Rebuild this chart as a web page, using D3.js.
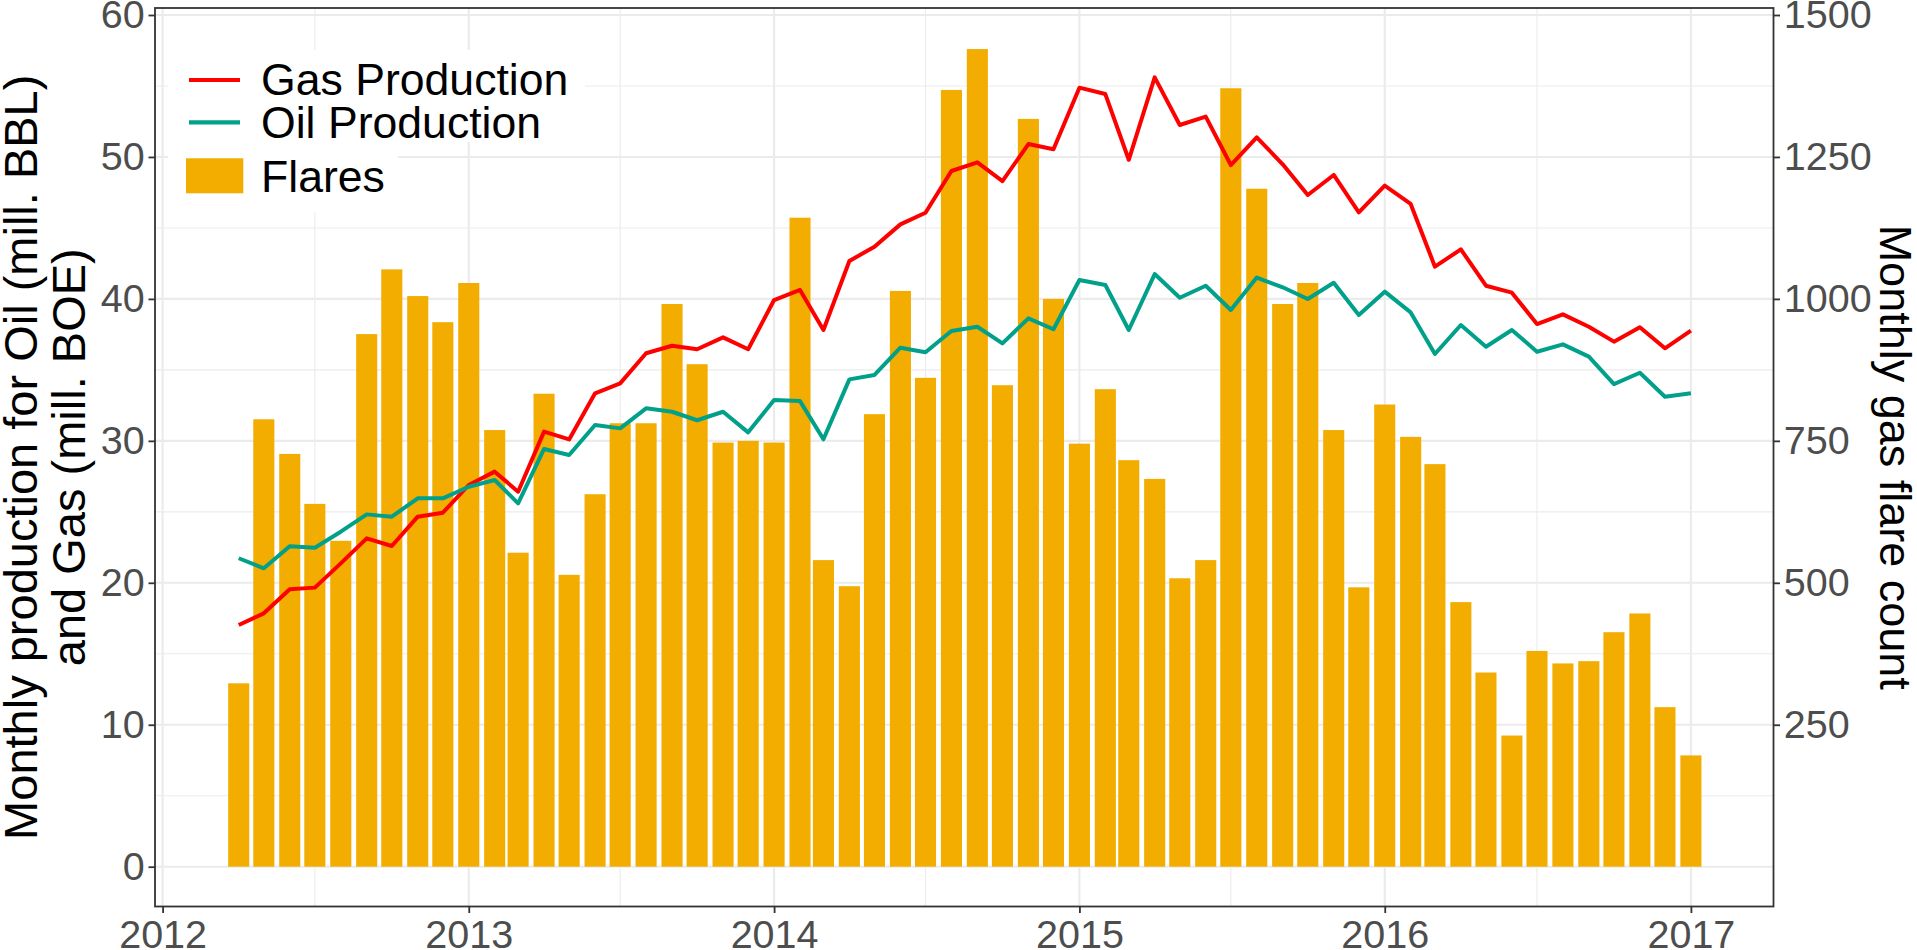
<!DOCTYPE html>
<html>
<head>
<meta charset="utf-8">
<script src="https://cdn.jsdelivr.net/npm/d3@7"></script>
<style>
  html, body { margin: 0; padding: 0; background: #ffffff; }
  svg { display: block; }
  text { font-family: "Liberation Sans", Arial, Helvetica, sans-serif; }
</style>
</head>
<body>
<svg id="chart" width="1917" height="950"></svg>
<script>
// ---------------- DATA ----------------
const months = [
  "2012-04","2012-05","2012-06","2012-07","2012-08","2012-09","2012-10","2012-11","2012-12",
  "2013-01","2013-02","2013-03","2013-04","2013-05","2013-06","2013-07","2013-08","2013-09","2013-10","2013-11","2013-12",
  "2014-01","2014-02","2014-03","2014-04","2014-05","2014-06","2014-07","2014-08","2014-09","2014-10","2014-11","2014-12",
  "2015-01","2015-02","2015-03","2015-04","2015-05","2015-06","2015-07","2015-08","2015-09","2015-10","2015-11","2015-12",
  "2016-01","2016-02","2016-03","2016-04","2016-05","2016-06","2016-07","2016-08","2016-09","2016-10","2016-11","2016-12",
  "2017-01"
];
// Monthly gas flare count (right axis)
const flares = [
  323, 788, 727, 639, 574, 938, 1052, 1005, 959,
  1028, 769, 553, 833, 514, 656, 781, 781, 991, 885, 747, 750,
  747, 1143, 540, 494, 797, 1014, 861, 1368, 1440, 848, 1317, 1000,
  745, 841, 716, 683, 508, 540, 1371, 1194, 991, 1028, 769, 492,
  814, 757, 709, 466, 342, 231, 380, 358, 362, 413, 446, 281,
  196
];
// Gas production (mill. BOE, left axis)
const gas = [
  17.03, 17.85, 19.54, 19.66, 21.37, 23.13, 22.59, 24.66, 24.94,
  26.89, 27.83, 26.42, 30.65, 30.10, 33.35, 34.05, 36.17, 36.70, 36.45, 37.29, 36.45,
  39.92, 40.63, 37.81, 42.67, 43.68, 45.25, 46.07, 49.01, 49.62, 48.30, 50.91, 50.54,
  54.88, 54.43, 49.80, 55.61, 52.25, 52.84, 49.43, 51.38, 49.48, 47.32, 48.73, 46.10,
  47.98, 46.69, 42.27, 43.49, 40.93, 40.44, 38.23, 38.91, 38.04, 36.99, 38.00, 36.52,
  37.76
];
// Oil production (mill. BBL, left axis)
const oil = [
  21.73, 21.02, 22.57, 22.47, 23.60, 24.82, 24.66, 25.95, 25.95,
  26.77, 27.24, 25.60, 29.43, 29.00, 31.12, 30.88, 32.29, 32.05, 31.45, 32.05, 30.60,
  32.87, 32.80, 30.11, 34.33, 34.64, 36.56, 36.24, 37.74, 38.04, 36.87, 38.63, 37.86,
  41.33, 40.98, 37.81, 41.75, 40.08, 40.93, 39.22, 41.50, 40.82, 39.99, 41.14, 38.87,
  40.51, 39.05, 36.12, 38.16, 36.63, 37.81, 36.28, 36.80, 35.93, 34.00, 34.80, 33.11,
  33.35
];
const leftTicks = [0, 10, 20, 30, 40, 50, 60];
const rightTicks = [250, 500, 750, 1000, 1250, 1500];
const yearTicks = ["2012", "2013", "2014", "2015", "2016", "2017"];
const legendLabels = ["Gas Production", "Oil Production", "Flares"];
const leftTitle = ["Monthly production for Oil (mill. BBL)", "and Gas (mill. BOE)"];
const rightTitle = "Monthly gas flare count";

// ---------------- STYLE / LAYOUT ----------------
const COL_GAS = "#FF0000", COL_OIL = "#00A08A", COL_BAR = "#F2AD00";
const GRID = "#EBEBEB", DARK = "#333333", TICKTXT = "#4D4D4D";
const panel = { left: 155, right: 1773.5, top: 8, bottom: 906.5 };

const parseM = d3.utcParse("%Y-%m");
const parseY = d3.utcParse("%Y");
const dates = months.map(parseM);

const x = d3.scaleUtc()
  .domain([parseY("2012"), parseY("2017")])
  .range([162.6, 1690.9]);
const y = d3.scaleLinear().domain([0, 60]).range([866.7, 15]);
const yR = d3.scaleLinear().domain([0, 1500]).range([866.7, 15]);

const svg = d3.select("#chart");
svg.append("rect").attr("width", 1917).attr("height", 950).attr("fill", "#fff");

const g = svg.append("g");

// ---- grid ----
const minorY = d3.range(5, 60, 10);
g.selectAll(".gminy").data(minorY).enter().append("line")
  .attr("x1", panel.left).attr("x2", panel.right)
  .attr("y1", d => y(d)).attr("y2", d => y(d))
  .attr("stroke", GRID).attr("stroke-width", 1.1);
const minorX = ["2012-07","2013-07","2014-07","2015-07","2016-07"].map(parseM);
g.selectAll(".gminx").data(minorX).enter().append("line")
  .attr("y1", panel.top).attr("y2", panel.bottom)
  .attr("x1", d => x(d)).attr("x2", d => x(d))
  .attr("stroke", GRID).attr("stroke-width", 1.1);
g.selectAll(".gmajy").data(leftTicks).enter().append("line")
  .attr("x1", panel.left).attr("x2", panel.right)
  .attr("y1", d => y(d)).attr("y2", d => y(d))
  .attr("stroke", GRID).attr("stroke-width", 2.1);
g.selectAll(".gmajx").data(yearTicks.map(parseY)).enter().append("line")
  .attr("y1", panel.top).attr("y2", panel.bottom)
  .attr("x1", d => x(d)).attr("x2", d => x(d))
  .attr("stroke", GRID).attr("stroke-width", 2.1);

// ---- bars ----
const halfW = 12.6 * 24 * 3600 * 1000; // 0.9 * 28 days / 2
g.selectAll(".bar").data(flares).enter().append("rect")
  .attr("x", (d, i) => x(new Date(+dates[i] - halfW)))
  .attr("width", (d, i) => x(new Date(+dates[i] + halfW)) - x(new Date(+dates[i] - halfW)))
  .attr("y", d => yR(d))
  .attr("height", d => yR(0) - yR(d))
  .attr("fill", COL_BAR);

// ---- lines ----
const line = d3.line().x(d => x(d[0])).y(d => y(d[1]));
g.append("path").datum(dates.map((d, i) => [d, gas[i]]))
  .attr("d", line).attr("fill", "none").attr("stroke", COL_GAS)
  .attr("stroke-width", 4).attr("stroke-linejoin", "round");
g.append("path").datum(dates.map((d, i) => [d, oil[i]]))
  .attr("d", line).attr("fill", "none").attr("stroke", COL_OIL)
  .attr("stroke-width", 4).attr("stroke-linejoin", "round");

// ---- legend ----
const lg = svg.append("g");
lg.append("rect").attr("x", 168).attr("y", 50).attr("width", 417).attr("height", 92).attr("fill", "#fff");
lg.append("rect").attr("x", 168).attr("y", 142).attr("width", 230).attr("height", 70).attr("fill", "#fff");
lg.append("line").attr("x1", 189).attr("x2", 240).attr("y1", 80).attr("y2", 80)
  .attr("stroke", COL_GAS).attr("stroke-width", 4.2);
lg.append("line").attr("x1", 189).attr("x2", 240).attr("y1", 122.3).attr("y2", 122.3)
  .attr("stroke", COL_OIL).attr("stroke-width", 4.2);
lg.append("rect").attr("x", 186).attr("y", 158.3).attr("width", 57.3).attr("height", 35)
  .attr("fill", COL_BAR);
const legY = [95, 138.3, 191.7];
lg.selectAll(".lt").data(legendLabels).enter().append("text")
  .attr("x", 261).attr("y", (d, i) => legY[i])
  .attr("font-size", 44.6).attr("fill", "#000").text(d => d);

// ---- panel border ----
svg.append("rect")
  .attr("x", panel.left).attr("y", panel.top)
  .attr("width", panel.right - panel.left).attr("height", panel.bottom - panel.top)
  .attr("fill", "none").attr("stroke", DARK).attr("stroke-width", 1.8);

// ---- axes ----
function styleAxis(sel) {
  sel.select(".domain").remove();
  sel.selectAll(".tick line").attr("stroke", DARK).attr("stroke-width", 1.8);
  sel.selectAll(".tick text").attr("fill", TICKTXT).attr("font-size", 39.5)
    .attr("font-family", '"Liberation Sans", Arial, sans-serif');
}
svg.append("g").attr("transform", `translate(${panel.left},0)`)
  .call(d3.axisLeft(y).tickValues(leftTicks).tickFormat(d3.format("d"))
    .tickSize(6.5).tickPadding(3.8))
  .call(styleAxis);
svg.append("g").attr("transform", `translate(${panel.right},0)`)
  .call(d3.axisRight(yR).tickValues(rightTicks).tickFormat(d3.format("d"))
    .tickSize(6.5).tickPadding(3.8))
  .call(styleAxis);
svg.append("g").attr("transform", `translate(0,${panel.bottom})`)
  .call(d3.axisBottom(x).tickValues(yearTicks.map(parseY)).tickFormat(d3.utcFormat("%Y"))
    .tickSize(6.5).tickPadding(7))
  .call(styleAxis);

// ---- axis titles ----
const midY = (panel.top + panel.bottom) / 2;
const lt = svg.append("text")
  .attr("transform", `translate(0,${midY}) rotate(-90)`)
  .attr("text-anchor", "middle").attr("font-size", 47).attr("fill", "#000");
lt.append("tspan").attr("x", 0).attr("y", 36.5).text(leftTitle[0]);
lt.append("tspan").attr("x", 0).attr("y", 84.5).text(leftTitle[1]);
svg.append("text")
  .attr("transform", `translate(1880,${midY}) rotate(90)`)
  .attr("text-anchor", "middle").attr("font-size", 45).attr("fill", "#000")
  .text(rightTitle);
</script>
</body>
</html>
